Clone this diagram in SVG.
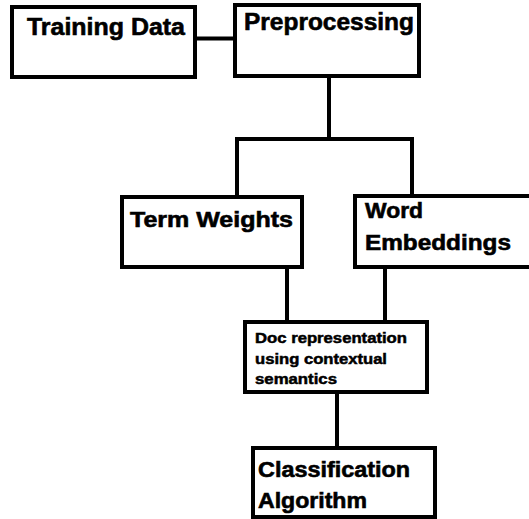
<svg xmlns="http://www.w3.org/2000/svg" width="529" height="519" viewBox="0 0 529 519">
  <style>
    .box { fill: #ffffff; stroke: #000000; stroke-width: 4; }
    .line { fill: none; stroke: #000000; stroke-width: 4; stroke-linecap: square; }
    .big { font-family: "Liberation Sans", Arial, sans-serif; font-weight: bold; font-size: 24px; fill: #000000; stroke: #000000; stroke-width: 0.6; }
    .mid { font-family: "Liberation Sans", Arial, sans-serif; font-weight: bold; font-size: 22px; fill: #000000; stroke: #000000; stroke-width: 0.6; }
    .small { font-family: "Liberation Sans", Arial, sans-serif; font-weight: bold; font-size: 14.5px; fill: #000000; stroke: #000000; stroke-width: 0.5; }
  </style>
  <rect width="529" height="519" fill="#ffffff"/>
  <g id="connectors">
    <path class="line" d="M197 38.5 H235"/>
    <path class="line" d="M329 78 V139"/>
    <path class="line" d="M237 197 V139 H412 V196"/>
    <path class="line" d="M287 267 V322"/>
    <path class="line" d="M385 267 V322"/>
    <path class="line" d="M337 392 V448"/>
  </g>
  <g id="training-data">
    <rect class="box" x="12" y="7" width="183" height="70"/>
    <text class="big" x="27" y="35" textLength="158" lengthAdjust="spacingAndGlyphs">Training Data</text>
  </g>
  <g id="preprocessing">
    <rect class="box" x="235" y="5" width="184" height="71"/>
    <text class="big" x="244" y="30" textLength="170" lengthAdjust="spacingAndGlyphs">Preprocessing</text>
  </g>
  <g id="term-weights">
    <rect class="box" x="122" y="197" width="180" height="70"/>
    <text class="mid" x="130" y="227" textLength="163" lengthAdjust="spacingAndGlyphs">Term Weights</text>
  </g>
  <g id="word-embeddings">
    <rect class="box" x="355" y="196" width="180" height="71"/>
    <text class="mid" x="365" y="218" textLength="58" lengthAdjust="spacingAndGlyphs">Word</text>
    <text class="mid" x="365" y="250" textLength="146" lengthAdjust="spacingAndGlyphs">Embeddings</text>
  </g>
  <g id="doc-representation">
    <rect class="box" x="245" y="322" width="182" height="70"/>
    <text class="small" x="255" y="343" textLength="152" lengthAdjust="spacingAndGlyphs">Doc representation</text>
    <text class="small" x="255" y="364" textLength="132" lengthAdjust="spacingAndGlyphs">using contextual</text>
    <text class="small" x="255" y="384" textLength="82" lengthAdjust="spacingAndGlyphs">semantics</text>
  </g>
  <g id="classification-algorithm">
    <rect class="box" x="253" y="448" width="182" height="69"/>
    <text class="mid" x="258" y="477" textLength="152" lengthAdjust="spacingAndGlyphs">Classification</text>
    <text class="mid" x="258" y="508" textLength="109" lengthAdjust="spacingAndGlyphs">Algorithm</text>
  </g>
</svg>
